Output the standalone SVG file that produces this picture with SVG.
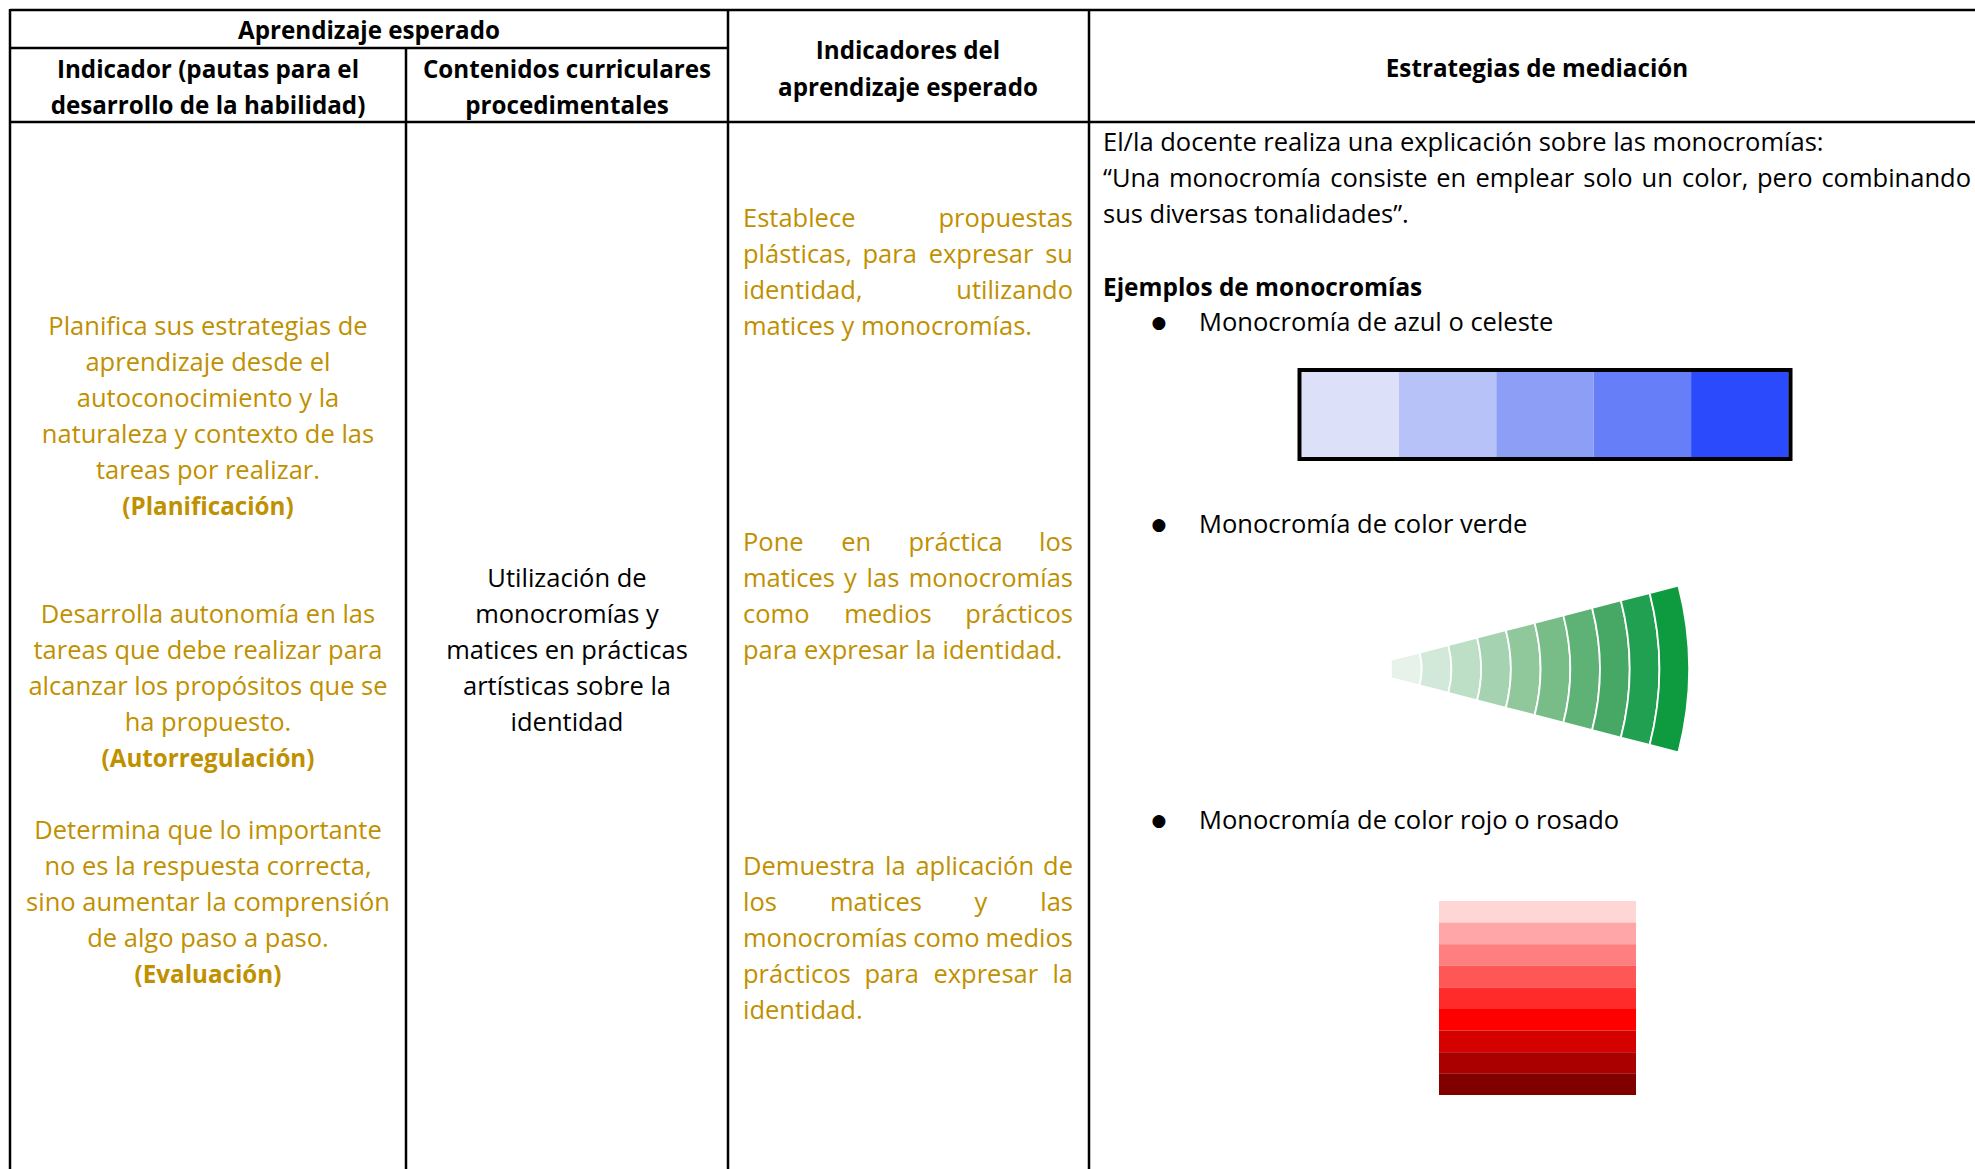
<svg xmlns="http://www.w3.org/2000/svg" width="1975" height="1169" viewBox="0 0 1975 1169">
<style>
text{font-family:"Open Sans","Liberation Sans",sans-serif;font-size:25.5px}
.h{font-weight:bold;fill:#000;text-anchor:middle;font-size:24.2px}
.g{fill:#bf9000}
.gc{fill:#bf9000;text-anchor:middle}
.gb{fill:#bf9000;text-anchor:middle;font-weight:bold;font-size:24.2px}
.k{fill:#000}
.kb{fill:#000;font-weight:bold;font-size:24.4px}
.kc{fill:#000;text-anchor:middle}
.ln{stroke:#000;stroke-width:2.5;fill:none}
.band{stroke:#fff;stroke-width:1.8}
.bul{font-family:"DejaVu Sans",sans-serif;font-size:17px;fill:#000;text-anchor:middle}
</style>
<rect width="1975" height="1169" fill="#fff"/>
<g id="grid">
<line class="ln" x1="10" y1="10" x2="1975" y2="10"/>
<line class="ln" x1="10" y1="48" x2="728" y2="48"/>
<line class="ln" x1="10" y1="122" x2="1975" y2="122"/>
<line class="ln" x1="10" y1="9" x2="10" y2="1169"/>
<line class="ln" x1="406" y1="48" x2="406" y2="1169"/>
<line class="ln" x1="728" y1="9" x2="728" y2="1169"/>
<line class="ln" x1="1089" y1="9" x2="1089" y2="1169"/>
</g>
<g id="header-aprendizaje"><text class="h" x="369" y="39">Aprendizaje esperado</text></g>
<g id="header-indicador"><text class="h" x="208" y="78">Indicador (pautas para el</text><text class="h" x="208" y="114">desarrollo de la habilidad)</text></g>
<g id="header-contenidos"><text class="h" x="567" y="78">Contenidos curriculares</text><text class="h" x="567" y="114">procedimentales</text></g>
<g id="header-indicadores"><text class="h" x="908" y="59">Indicadores del</text><text class="h" x="908" y="96">aprendizaje esperado</text></g>
<g id="header-estrategias"><text class="h" x="1537" y="77">Estrategias de mediación</text></g>

<g id="indicador-planificacion">
<text class="gc" x="208" y="335">Planifica sus estrategias de</text>
<text class="gc" x="208" y="371">aprendizaje desde el</text>
<text class="gc" x="208" y="407">autoconocimiento y la</text>
<text class="gc" x="208" y="443">naturaleza y contexto de las</text>
<text class="gc" x="208" y="479">tareas por realizar.</text>
<text class="gb" x="208" y="515">(Planificación)</text>
</g>
<g id="indicador-autorregulacion">
<text class="gc" x="208" y="623">Desarrolla autonomía en las</text>
<text class="gc" x="208" y="659">tareas que debe realizar para</text>
<text class="gc" x="208" y="695">alcanzar los propósitos que se</text>
<text class="gc" x="208" y="731">ha propuesto.</text>
<text class="gb" x="208" y="767">(Autorregulación)</text>
</g>
<g id="indicador-evaluacion">
<text class="gc" x="208" y="839">Determina que lo importante</text>
<text class="gc" x="208" y="875">no es la respuesta correcta,</text>
<text class="gc" x="208" y="911">sino aumentar la comprensión</text>
<text class="gc" x="208" y="947">de algo paso a paso.</text>
<text class="gb" x="208" y="983">(Evaluación)</text>
</g>

<g id="contenidos">
<text class="kc" x="567" y="587">Utilización de</text>
<text class="kc" x="567" y="623">monocromías y</text>
<text class="kc" x="567" y="659">matices en prácticas</text>
<text class="kc" x="567" y="695">artísticas sobre la</text>
<text class="kc" x="567" y="731">identidad</text>
</g>

<g id="indicadores-1">
<text class="g" y="227"><tspan x="743">Establece</tspan> <tspan x="1073" text-anchor="end">propuestas</tspan></text>
<text class="g" y="263"><tspan x="743">plásticas,</tspan> <tspan x="862.5">para</tspan> <tspan x="928.7">expresar</tspan> <tspan x="1073" text-anchor="end">su</tspan></text>
<text class="g" y="299"><tspan x="743">identidad,</tspan> <tspan x="1073" text-anchor="end">utilizando</tspan></text>
<text class="g" x="743" y="335">matices y monocromías.</text>
</g>
<g id="indicadores-2">
<text class="g" y="551"><tspan x="743">Pone</tspan> <tspan x="841.2">en</tspan> <tspan x="908.4">práctica</tspan> <tspan x="1073" text-anchor="end">los</tspan></text>
<text class="g" y="587"><tspan x="743">matices</tspan> <tspan x="844.1">y</tspan> <tspan x="866.6">las</tspan> <tspan x="1073" text-anchor="end">monocromías</tspan></text>
<text class="g" y="623"><tspan x="743">como</tspan> <tspan x="844.2">medios</tspan> <tspan x="1073" text-anchor="end">prácticos</tspan></text>
<text class="g" x="743" y="659">para expresar la identidad.</text>
</g>
<g id="indicadores-3">
<text class="g" y="875"><tspan x="743">Demuestra</tspan> <tspan x="885">la</tspan> <tspan x="915.4">aplicación</tspan> <tspan x="1073" text-anchor="end">de</tspan></text>
<text class="g" y="911"><tspan x="743">los</tspan> <tspan x="829.9">matices</tspan> <tspan x="974.5">y</tspan> <tspan x="1073" text-anchor="end">las</tspan></text>
<text class="g" y="947"><tspan x="743">monocromías</tspan> <tspan x="913.2">como</tspan> <tspan x="1073" text-anchor="end">medios</tspan></text>
<text class="g" y="983"><tspan x="743">prácticos</tspan> <tspan x="864.5">para</tspan> <tspan x="933.4">expresar</tspan> <tspan x="1073" text-anchor="end">la</tspan></text>
<text class="g" x="743" y="1019">identidad.</text>
</g>

<g id="estrategias-texto">
<text class="k" x="1103" y="151">El/la docente realiza una explicación sobre las monocromías:</text>
<text class="k" y="187"><tspan x="1103">“Una</tspan> <tspan x="1168.9">monocromía</tspan> <tspan x="1330.3">consiste</tspan> <tspan x="1436.2">en</tspan> <tspan x="1475.4">emplear</tspan> <tspan x="1583.3">solo</tspan> <tspan x="1641.6">un</tspan> <tspan x="1682.1">color,</tspan> <tspan x="1757">pero</tspan> <tspan x="1971" text-anchor="end">combinando</tspan></text>
<text class="k" x="1103" y="223">sus diversas tonalidades”.</text>
<text class="kb" x="1103" y="296">Ejemplos de monocromías</text>
</g>

<g id="ejemplo-azul">
<text class="bul" x="1159" y="328">●</text>
<text class="k" x="1199" y="331">Monocromía de azul o celeste</text>
<rect x="1301.5" y="372" width="97.4" height="87" fill="#dce1f9"/>
<rect x="1398.9" y="372" width="97.4" height="87" fill="#b7c2f8"/>
<rect x="1496.3" y="372" width="97.4" height="87" fill="#8d9ef7"/>
<rect x="1593.7" y="372" width="97.4" height="87" fill="#677ef9"/>
<rect x="1691.1" y="372" width="97.6" height="87" fill="#2b4afc"/>
<rect x="1299.5" y="370" width="491" height="89" fill="none" stroke="#000" stroke-width="4"/>
</g>

<g id="ejemplo-verde">
<text class="bul" x="1159" y="530">●</text>
<text class="k" x="1199" y="533">Monocromía de color verde</text>
<path class="band" fill="#e6f2ea" d="M1390.85 659.99 L1419.60 652.55 A65.7 65.7 0 0 1 1419.60 685.45 L1390.85 678.01 Z"/>
<path class="band" fill="#d2e9d9" d="M1419.60 652.55 L1448.36 645.11 A95.4 95.4 0 0 1 1448.36 692.89 L1419.60 685.45 A65.7 65.7 0 0 0 1419.60 652.55 Z"/>
<path class="band" fill="#bcdfc5" d="M1448.36 645.11 L1477.11 637.67 A125.1 125.1 0 0 1 1477.11 700.33 L1448.36 692.89 A95.4 95.4 0 0 0 1448.36 645.11 Z"/>
<path class="band" fill="#a5d3b1" d="M1477.11 637.67 L1505.86 630.24 A154.8 154.8 0 0 1 1505.86 707.76 L1477.11 700.33 A125.1 125.1 0 0 0 1477.11 637.67 Z"/>
<path class="band" fill="#90c89c" d="M1505.86 630.24 L1534.62 622.80 A184.5 184.5 0 0 1 1534.62 715.20 L1505.86 707.76 A154.8 154.8 0 0 0 1505.86 630.24 Z"/>
<path class="band" fill="#78bd88" d="M1534.62 622.80 L1563.37 615.36 A214.2 214.2 0 0 1 1563.37 722.64 L1534.62 715.20 A184.5 184.5 0 0 0 1534.62 622.80 Z"/>
<path class="band" fill="#5fb276" d="M1563.37 615.36 L1592.12 607.93 A243.9 243.9 0 0 1 1592.12 730.07 L1563.37 722.64 A214.2 214.2 0 0 0 1563.37 615.36 Z"/>
<path class="band" fill="#47a865" d="M1592.12 607.93 L1620.87 600.49 A273.6 273.6 0 0 1 1620.87 737.51 L1592.12 730.07 A243.9 243.9 0 0 0 1592.12 607.93 Z"/>
<path class="band" fill="#22a052" d="M1620.87 600.49 L1649.63 593.05 A303.3 303.3 0 0 1 1649.63 744.95 L1620.87 737.51 A273.6 273.6 0 0 0 1620.87 600.49 Z"/>
<path class="band" fill="#0e9a3e" d="M1649.63 593.05 L1678.38 585.62 A333 333 0 0 1 1678.38 752.38 L1649.63 744.95 A303.3 303.3 0 0 0 1649.63 593.05 Z"/>
</g>

<g id="ejemplo-rojo">
<text class="bul" x="1159" y="826">●</text>
<text class="k" x="1199" y="829">Monocromía de color rojo o rosado</text>
<rect x="1439" y="901" width="197" height="21.6" fill="#ffd6d6"/>
<rect x="1439" y="922.6" width="197" height="21.6" fill="#ffa6a8"/>
<rect x="1439" y="944.2" width="197" height="21.6" fill="#ff7f80"/>
<rect x="1439" y="965.8" width="197" height="21.6" fill="#ff5656"/>
<rect x="1439" y="987.4" width="197" height="21.6" fill="#ff2b2b"/>
<rect x="1439" y="1009" width="197" height="21.6" fill="#ff0000"/>
<rect x="1439" y="1030.6" width="197" height="21.6" fill="#d50000"/>
<rect x="1439" y="1052.2" width="197" height="21.6" fill="#aa0000"/>
<rect x="1439" y="1073.8" width="197" height="21.2" fill="#800000"/>
</g>
</svg>
